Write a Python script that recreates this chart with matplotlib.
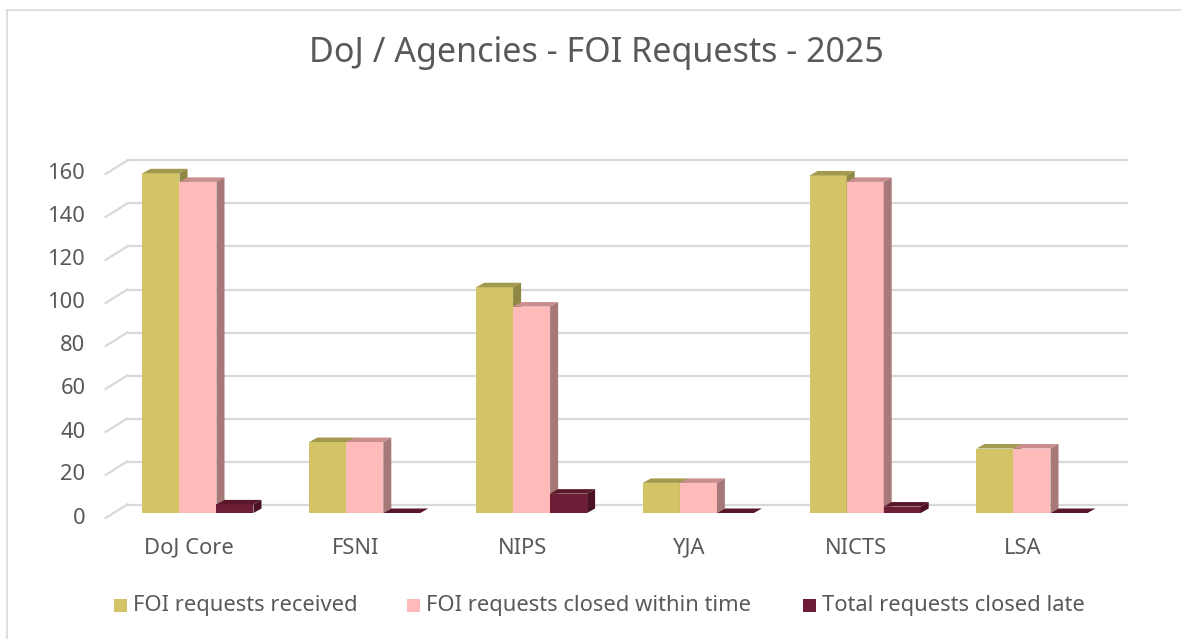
import matplotlib.pyplot as plt
from matplotlib.patches import Polygon, Rectangle
from matplotlib.lines import Line2D

categories = ['DoJ Core', 'FSNI', 'NIPS', 'YJA', 'NICTS', 'LSA']
received = [158, 33, 105, 14, 157, 30]
closed_in_time = [154, 33, 96, 14, 154, 30]
closed_late = [4, 0, 9, 0, 3, 0]
series_names = ['FOI requests received', 'FOI requests closed within time',
                'Total requests closed late']
yticks = [0, 20, 40, 60, 80, 100, 120, 140, 160]

# front / top / side shades per series
front_cols = ['#D2C467', '#FFBABA', '#6D1D35']
top_cols = ['#A39A4F', '#C98D8D', '#5A1729']
side_cols = ['#8F8744', '#A67878', '#4A1222']
text_col = '#595959'
grid_col = '#D9D9D9'
fs = 15.8

plt.rcParams['font.family'] = ['Noto Sans', 'DejaVu Sans']

W, H = 1181, 639
fig = plt.figure(figsize=(W / 100, H / 100), dpi=100)
ax_l, ax_b, ax_w, ax_h = 105.6, 121, 1000.8, 344
ax = fig.add_axes([ax_l / W, ax_b / H, ax_w / W, ax_h / H])
ax.set_xlim(-0.5, len(categories) - 0.5)
ax.set_ylim(0, 160)
ax.axis('off')

px_x = ax_w / len(categories)
px_y = ax_h / 160


def off(dx, dy):
    # pixel offset -> data offset
    return dx / px_x, dy / px_y


# back wall and depth ticks
bx, by = off(21.6, 13.5)
for v in yticks:
    ax.plot([-0.5 + bx, len(categories) - 0.5 + bx], [v + by, v + by],
            color=grid_col, lw=1.6, zorder=1, clip_on=False, solid_capstyle='butt')
    ax.plot([-0.5, -0.5 + bx], [v, v + by], color=grid_col, lw=1.6,
            zorder=1, clip_on=False)
    tx, _ = off(20, 0)
    ax.text(-0.5 - tx, v, str(v), ha='right', va='center', fontsize=fs,
            color=text_col)

# bars
w, _ = off(37, 0)
fdx, fdy = off(9, 5)
sdx, sdy = off(8, 4.5)
data = [received, closed_in_time, closed_late]
for i in range(len(categories)):
    for j, vals in enumerate(data):
        v = vals[i]
        x0 = i + (j - 1.5) * w + fdx
        x1 = x0 + w
        y0 = fdy
        y1 = v + fdy
        z = 3 + i * 3 + j
        ax.add_patch(Rectangle((x0, y0), w, v, facecolor=front_cols[j],
                               edgecolor='none', zorder=z, clip_on=False))
        ax.add_patch(Polygon([(x0, y1), (x1, y1), (x1 + sdx, y1 + sdy), (x0 + sdx, y1 + sdy)],
                             closed=True, facecolor=top_cols[j], edgecolor='none',
                             zorder=z, clip_on=False))
        ax.add_patch(Polygon([(x1, y0), (x1 + sdx, y0 + sdy), (x1 + sdx, y1 + sdy), (x1, y1)],
                             closed=True, facecolor=side_cols[j], edgecolor='none',
                             zorder=z, clip_on=False))

# category labels
_, ly = off(0, 30)
for i, c in enumerate(categories):
    ax.text(i, -ly, c, ha='center', va='center', fontsize=fs, color=text_col)

# title
fig.text(596 / W, 1 - 53 / H, 'DoJ / Agencies - FOI Requests - 2025',
         ha='center', va='center', fontsize=24.5, color=text_col)

# legend
leg_x = [114, 407, 803]
leg_y = 605
for k, name in enumerate(series_names):
    fig.patches.append(Rectangle((leg_x[k] / W, 1 - (leg_y + 6.5) / H), 13 / W, 13 / H,
                                 transform=fig.transFigure, facecolor=front_cols[k],
                                 edgecolor='none'))
    fig.text((leg_x[k] + 19) / W, 1 - leg_y / H, name, ha='left', va='center',
             fontsize=fs, color=text_col)

# chart border (top and left edge visible)
fig.add_artist(Line2D([7 / W, 1], [1 - 10 / H, 1 - 10 / H], transform=fig.transFigure,
                      color='#D9D9D9', lw=1.2))
fig.add_artist(Line2D([7 / W, 7 / W], [0, 1 - 10 / H], transform=fig.transFigure,
                      color='#D9D9D9', lw=1.2))

fig.savefig('out.png', dpi=100)
